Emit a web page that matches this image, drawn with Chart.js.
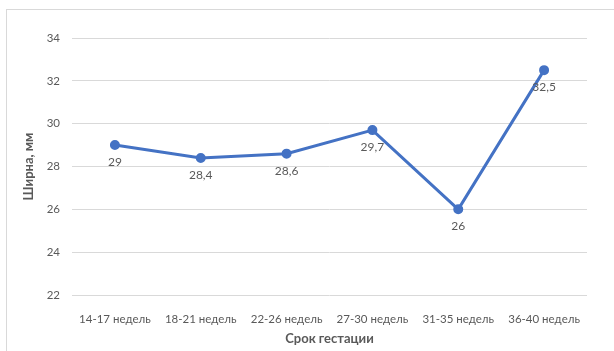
<!DOCTYPE html>
<html>
<head>
<meta charset="utf-8">
<script src="https://cdn.jsdelivr.net/npm/chart.js@4"></script>
<style>
  html, body { margin: 0; padding: 0; background: #fff; }
  #wrap { position: relative; width: 614px; height: 351px; }
  #frame { position: absolute; left: 6px; top: 9px; right: -2px; bottom: -2px; border-left: 1px solid #d9d9d9; border-top: 1px solid #d9d9d9; }
  canvas { position: absolute; left: 0; top: 0; }
</style>
</head>
<body>
<div id="wrap">
  <div id="frame"></div>
  <canvas id="myChart" width="614" height="351"></canvas>
</div>
<script>
const periods = ['14-17 недель', '18-21 недель', '22-26 недель', '27-30 недель', '31-35 недель', '36-40 недель']
const widths = [29, 28.4, 28.6, 29.7, 26, 32.5]
const yMin = 22
const yMax = 34
const yStep = 2

const fontName = "Lato, 'Open Sans', sans-serif"
const grey = '#595959'

// labels under each point
const pointLabels = {
  id: 'pointLabels',
  afterDatasetsDraw(chart) {
    const ctx = chart.ctx
    const meta = chart.getDatasetMeta(0)
    ctx.save()
    ctx.font = '12px ' + fontName
    ctx.fillStyle = grey
    ctx.textAlign = 'center'
    ctx.textBaseline = 'middle'
    meta.data.forEach((pt, i) => {
      ctx.fillText(String(widths[i]).replace('.', ','), pt.x, pt.y + 17)
    })
    ctx.restore()
  }
}

const config = {
  type: 'line',
  data: {
    labels: periods,
    datasets: [{
      data: widths,
      borderColor: '#4472C4',
      backgroundColor: '#4472C4',
      borderWidth: 3,
      pointRadius: 3.5,
      pointHoverRadius: 3.5,
      tension: 0
    }]
  },
  options: {
    responsive: false,
    animation: false,
    layout: { padding: { top: 38, right: 27, bottom: 0, left: 0 } },
    plugins: { legend: { display: false }, tooltip: { enabled: false } },
    scales: {
      x: {
        offset: true,
        grid: { display: false },
        border: { display: false },
        ticks: { color: grey, font: { family: fontName, size: 11.5 }, padding: 9, maxRotation: 0, autoSkip: false },
        title: { display: true, text: 'Срок гестации', color: grey, font: { family: fontName, size: 13, weight: 'bold' }, padding: { top: 5 } },
        afterFit: s => { s.height = 56 }
      },
      y: {
        min: yMin,
        max: yMax,
        grid: { color: '#d9d9d9', lineWidth: 1, drawTicks: false },
        border: { display: false },
        ticks: { stepSize: yStep, color: grey, font: { family: fontName, size: 11.5 }, padding: 12 },
        title: { display: true, text: 'Ширна, мм', color: grey, font: { family: fontName, size: 13, weight: 'bold' }, padding: { top: 21, bottom: 6 } },
        afterFit: s => { s.width = 72 }
      }
    }
  },
  plugins: [pointLabels]
}

new Chart(document.getElementById('myChart'), config)
</script>
</body>
</html>
